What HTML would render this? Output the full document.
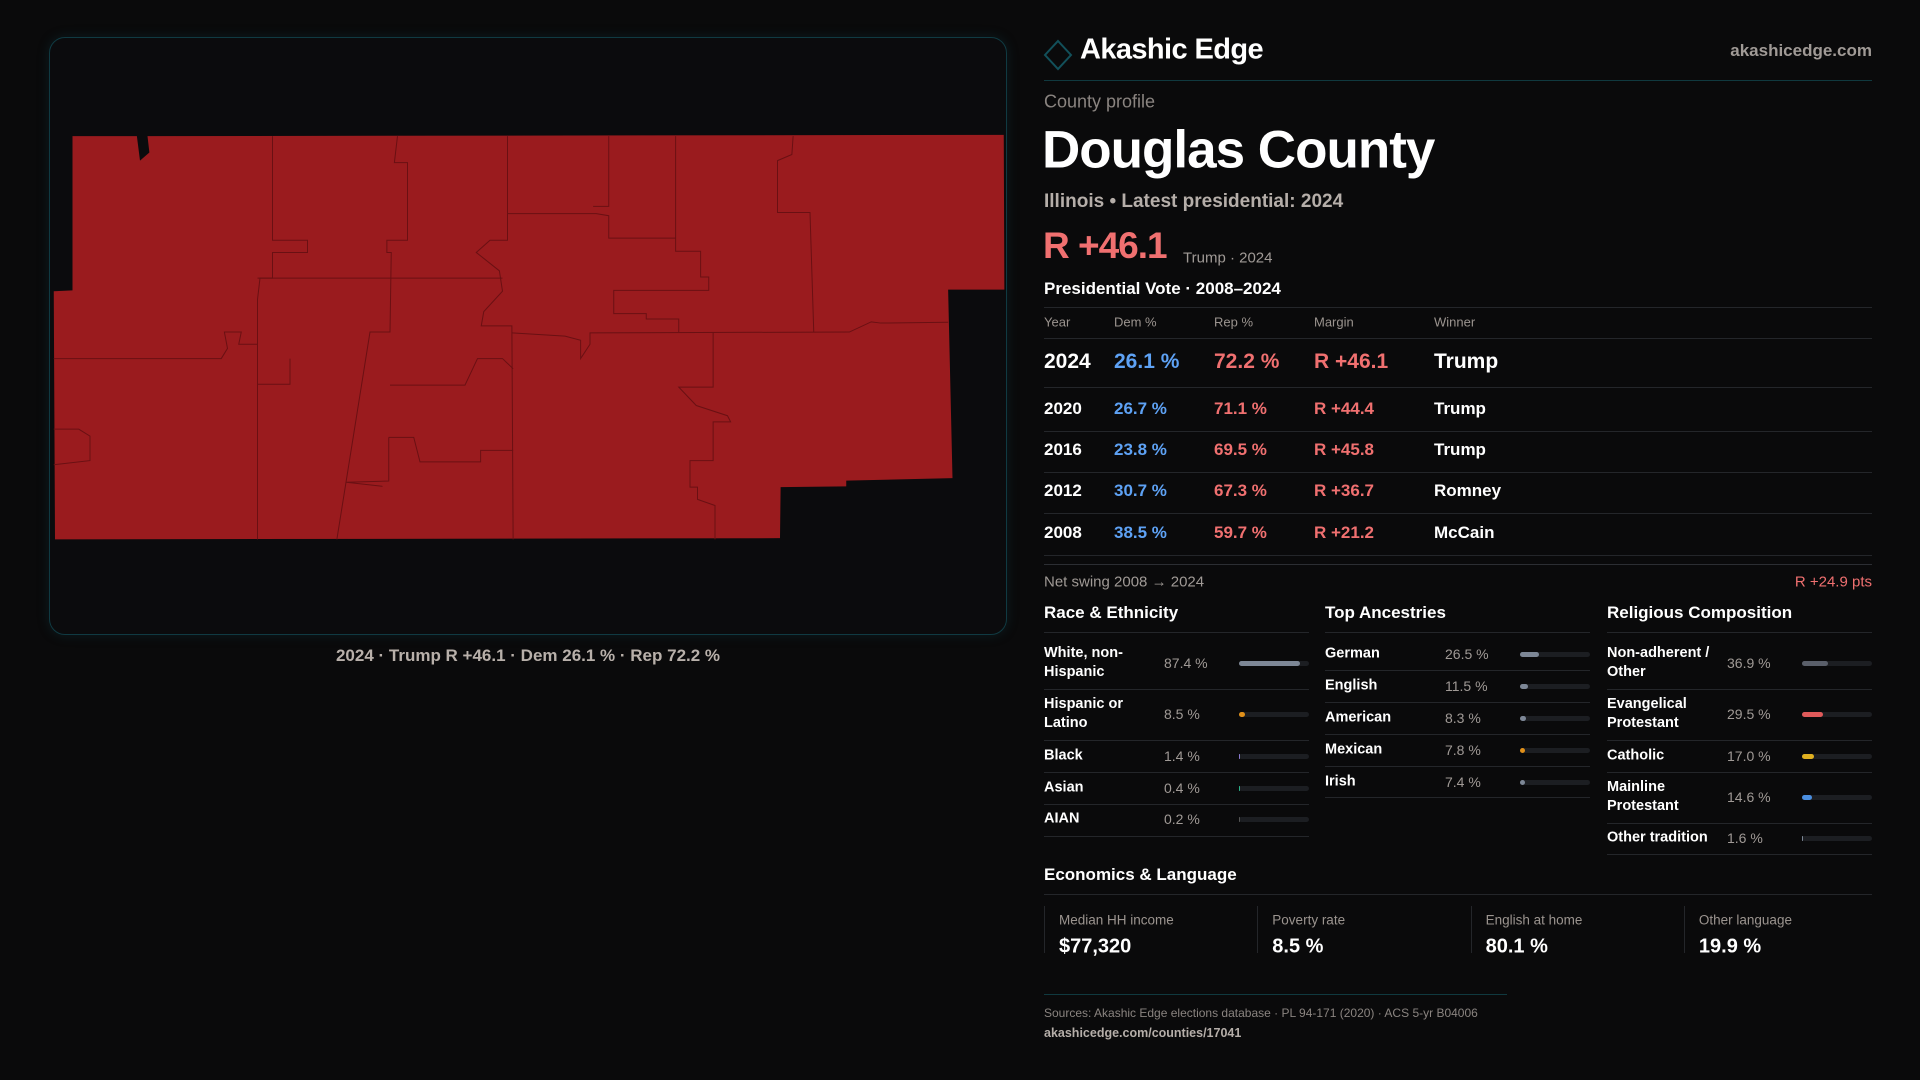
<!DOCTYPE html>
<html><head><meta charset="utf-8">
<style>
*{margin:0;padding:0;box-sizing:border-box}
body{width:1920px;height:1080px;background:#0a0a0b;font-family:"Liberation Sans",sans-serif;color:#fff;position:relative;overflow:hidden}
.a{position:absolute;white-space:nowrap}
.vc{transform:translateY(-50%)}
.hl{position:absolute;height:1px;background:#24262a}
.g{color:#9b948f}
.b{font-weight:bold}
</style></head><body>
<div class="a" style="left:49px;top:37px;width:958px;height:598px;border:1px solid #103a42;border-radius:16px;background:#0b0b0d;box-shadow:0 0 12px rgba(20,80,90,0.25)"></div>
<svg class="a" style="left:0;top:0" width="1020" height="660">
 <g transform="translate(40,30) scale(0.625,0.408163)">
  <path fill="#9a1b1e" d="M52,260 L155,260 L160,320 L175,300 L172,260 L1542,257 L1543,636 L1453,636 L1460,1098 L1290,1104 L1290,1118 L1185,1120 L1184,1245 L24,1248 L22,640 L52,638 Z"/>
  <g fill="none" stroke="#6a1013" stroke-width="1" vector-effect="non-scaling-stroke">
   <path vector-effect="non-scaling-stroke" d="M372,260 L372,515 L428,515 L428,545 L372,545 L372,608 L352,608 L348,660 L348,770 L318,770 L322,740 L295,740 L300,780 L290,805 L22,805"/>
   <path vector-effect="non-scaling-stroke" d="M348,770 L348,1248"/>
   <path vector-effect="non-scaling-stroke" d="M348,608 L740,608"/>
   <path vector-effect="non-scaling-stroke" d="M572,260 L567,325 L588,325 L588,515 L555,515 L555,545 L562,545 L560,740 L528,740 L475,1248"/>
   <path vector-effect="non-scaling-stroke" d="M748,260 L748,515 L720,515 L698,545 L735,590 L740,640 L710,690 L706,725 L755,725 L757,1248"/>
   <path vector-effect="non-scaling-stroke" d="M748,450 L890,450 L910,455 L910,510 L1017,510"/>
   <path vector-effect="non-scaling-stroke" d="M910,260 L910,432 L885,432"/>
   <path vector-effect="non-scaling-stroke" d="M1017,260 L1017,542 L1057,542 L1057,605 L1070,605 L1070,638 L918,638 L918,695 L970,695 L970,708 L1022,708 L1022,740"/>
   <path vector-effect="non-scaling-stroke" d="M1205,260 L1203,305 L1180,320 L1180,447 L1232,447 L1238,740"/>
   <path vector-effect="non-scaling-stroke" d="M755,742 L840,750 L865,760 L865,805 L880,770 L880,742 L1295,740 L1330,715 L1345,718 L1453,716"/>
   <path vector-effect="non-scaling-stroke" d="M1077,740 L1077,875 L1022,875 L1050,920 L1100,945 L1105,960 L1077,960 L1077,1055 L1040,1055 L1040,1120 L1052,1120 L1052,1150 L1080,1165 L1080,1248"/>
   <path vector-effect="non-scaling-stroke" d="M560,870 L680,870 L700,805 L740,805 L757,830"/>
   <path vector-effect="non-scaling-stroke" d="M400,805 L400,868 L348,868"/>
   <path vector-effect="non-scaling-stroke" d="M558,998 L598,998 L608,1058 L705,1058 L705,1030 L757,1030"/>
   <path vector-effect="non-scaling-stroke" d="M558,998 L558,1105 L490,1108 L548,1118"/>
   <path vector-effect="non-scaling-stroke" d="M22,978 L62,978 L80,995 L80,1055 L22,1065"/>
  </g>
 </g>
</svg>
<div class="a" style="left:49px;width:958px;top:656px;text-align:center;font-size:17px;color:#b8b0aa;font-weight:bold;transform:translateY(-50%)">2024 · Trump R +46.1 · Dem 26.1 % · Rep 72.2 %</div>

<svg class="a" style="left:1042px;top:39px" width="32" height="32"><path d="M16,2 L29,16 L16,30 L3,16 Z" fill="none" stroke="#12505a" stroke-width="2"/></svg>
<div class="a vc b" style="left:1080px;top:50px;font-size:29px;letter-spacing:-0.6px">Akashic Edge</div>
<div class="a vc b" style="right:48px;top:51px;font-size:17px;color:#a09a96">akashicedge.com</div>
<div class="hl" style="left:1044px;top:80px;width:828px;background:#10393f"></div>
<div class="a vc" style="left:1044px;top:102px;font-size:18px;color:#8a8480">County profile</div>
<div class="a vc b" style="left:1042px;top:150px;font-size:53px;letter-spacing:-1px">Douglas County</div>
<div class="a vc b" style="left:1044px;top:202px;font-size:19px;color:#b5aea9">Illinois • Latest presidential: 2024</div>
<div class="a vc b" style="left:1043px;top:246px;font-size:37px;letter-spacing:-1px;color:#f07070">R +46.1</div>
<div class="a vc" style="left:1183px;top:258px;font-size:15px;color:#a09a96">Trump · 2024</div>
<div class="a vc b" style="left:1044px;top:289px;font-size:17px">Presidential Vote · 2008–2024</div>
<div class="hl" style="left:1044px;top:307px;width:828px"></div>
<div class="a vc g" style="left:1044px;top:322px;font-size:13px">Year</div>
<div class="a vc g" style="left:1114px;top:322px;font-size:13px">Dem %</div>
<div class="a vc g" style="left:1214px;top:322px;font-size:13px">Rep %</div>
<div class="a vc g" style="left:1314px;top:322px;font-size:13px">Margin</div>
<div class="a vc g" style="left:1434px;top:322px;font-size:13px">Winner</div>
<div class="hl" style="left:1044px;top:338px;width:828px"></div>
<div id="vote-table"></div>
<div class="hl" style="left:1044px;top:564px;width:828px;background:#2c2e33"></div>
<div class="a vc" style="left:1044px;top:582px;font-size:15px;color:#a09a96">Net swing 2008 → 2024</div>
<div class="a vc" style="right:48px;top:582px;font-size:15px;color:#f07070">R +24.9 pts</div>
<div id="demo"></div>
<div class="a vc b" style="left:1044px;top:875px;font-size:17px">Economics &amp; Language</div>
<div class="hl" style="left:1044px;top:894px;width:828px"></div>
<div id="econ"></div>
<div class="hl" style="left:1044px;top:994px;width:463px;background:#10393f"></div>
<div class="a vc" style="left:1044px;top:1013px;font-size:12px;color:#8a8480">Sources: Akashic Edge elections database · PL 94-171 (2020) · ACS 5-yr B04006</div>
<div class="a vc b" style="left:1044px;top:1033px;font-size:12.5px;color:#b5aea9">akashicedge.com/counties/17041</div>

<script>
const years=["2024","2020","2016","2012","2008"];
const demPct=[26.1,26.7,23.8,30.7,38.5];
const repPct=[72.2,71.1,69.5,67.3,59.7];
const margins=["R +46.1","R +44.4","R +45.8","R +36.7","R +21.2"];
const winners=["Trump","Trump","Trump","Romney","McCain"];

const raceLabels=["White, non-<br>Hispanic","Hispanic or<br>Latino","Black","Asian","AIAN"];
const raceValues=[87.4,8.5,1.4,0.4,0.2];
const raceColors=["#7d8796","#e0901a","#8a7ad0","#2bb38a","#555"];
const ancLabels=["German","English","American","Mexican","Irish"];
const ancValues=[26.5,11.5,8.3,7.8,7.4];
const ancColors=["#7d8796","#7d8796","#7d8796","#e0901a","#7d8796"];
const relLabels=["Non-adherent /<br>Other","Evangelical<br>Protestant","Catholic","Mainline<br>Protestant","Other tradition"];
const relValues=[36.9,29.5,17.0,14.6,1.6];
const relColors=["#5a5f6a","#e05a5a","#e0b020","#4a8ee0","#7d8796"];

const econLabels=["Median HH income","Poverty rate","English at home","Other language"];
const econValues=["$77,320","8.5 %","80.1 %","19.9 %"];

function mk(parent,html,style,name,inter){
  const d=document.createElement('div');
  d.className='a vc';
  d.innerHTML=html;
  d.style.cssText=style;
  
  
  parent.appendChild(d);
  return d;
}
const vt=document.getElementById('vote-table');
const rowY=[362,409,450,491,533];
const lineY=[387,431,472,513,555];
years.forEach((y,i)=>{
  const fs=i===0?21:17;
  mk(vt,y,`left:1044px;top:${rowY[i]}px;font-size:${fs}px;font-weight:bold;color:#fff`,'row-year','false');
  mk(vt,demPct[i].toFixed(1)+' %',`left:1114px;top:${rowY[i]}px;font-size:${fs}px;font-weight:bold;color:#5ea2f5`,'row-dem','false');
  mk(vt,repPct[i].toFixed(1)+' %',`left:1214px;top:${rowY[i]}px;font-size:${fs}px;font-weight:bold;color:#f07070`,'row-rep','false');
  mk(vt,margins[i],`left:1314px;top:${rowY[i]}px;font-size:${fs}px;font-weight:bold;color:#f07070`,'row-margin','false');
  mk(vt,winners[i],`left:1434px;top:${rowY[i]}px;font-size:${fs}px;font-weight:bold;color:#fff`,'row-winner','false');
  const l=document.createElement('div');l.className='hl';l.style.cssText=`left:1044px;top:${lineY[i]}px;width:828px`;
  
  
  vt.appendChild(l);
});
const demo=document.getElementById('demo');
function section(x,title,labels,values,colors,centers,lines,name){
  mk(demo,title,`left:${x}px;top:613px;font-size:17px;font-weight:bold`,name+'-heading','false');
  const h=document.createElement('div');h.className='hl';h.style.cssText=`left:${x}px;top:632px;width:265px`;
  
  
  demo.appendChild(h);
  labels.forEach((lab,i)=>{
    mk(demo,lab,`left:${x}px;top:${centers[i]}px;font-size:14.5px;font-weight:bold;line-height:19px`,name+'-label','false');
    mk(demo,values[i].toFixed(1)+' %',`left:${x+120}px;top:${centers[i]}px;font-size:14px;color:#a09a96`,name+'-value','false');
    const tr=document.createElement('div');tr.className='a';
    tr.style.cssText=`left:${x+195}px;top:${centers[i]-2.5}px;width:70px;height:5px;border-radius:3px;background:#1c1e22`;
    
    
    const f=document.createElement('div');
    f.style.cssText=`width:${Math.max(1,values[i]/100*70)}px;height:5px;border-radius:3px;background:${colors[i]}`;
    
    
    tr.appendChild(f);demo.appendChild(tr);
    const l=document.createElement('div');l.className='hl';l.style.cssText=`left:${x}px;top:${lines[i]}px;width:265px`;
    
    
    demo.appendChild(l);
  });
}
section(1044,'Race &amp; Ethnicity',raceLabels,raceValues,raceColors,[663,714,756,788,819],[689,740,772,804,836],'race');
section(1325,'Top Ancestries',ancLabels,ancValues,ancColors,[654,686,718,750,782],[670,702,734,766,797],'ancestry');
section(1607,'Religious Composition',relLabels,relValues,relColors,[663,714,756,797,838],[689,740,772,823,854],'religion');
const ec=document.getElementById('econ');
econLabels.forEach((lab,i)=>{
  const x=1044+i*213.3;
  const b=document.createElement('div');b.className='a';
  b.style.cssText=`left:${x}px;top:906px;width:1px;height:47px;background:#24262a`;
  
  
  ec.appendChild(b);
  mk(ec,lab,`left:${x+15}px;top:920px;font-size:13.5px;color:#9b948f`,'stat-label','false');
  mk(ec,econValues[i],`left:${x+15}px;top:947px;font-size:20px;font-weight:bold`,'stat-value','false');
});
</script>
</body></html>
